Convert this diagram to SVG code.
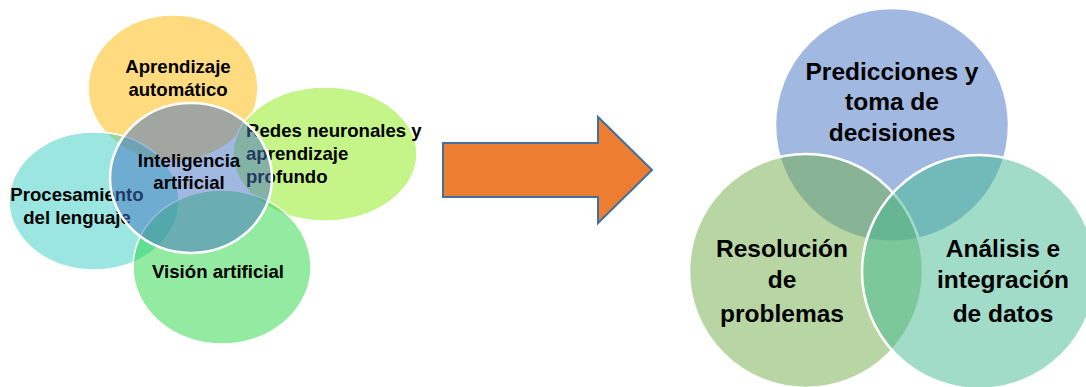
<svg xmlns="http://www.w3.org/2000/svg" width="1086" height="387" viewBox="0 0 1086 387">
<style>
.t{font-family:"Liberation Sans",Arial,sans-serif;font-weight:bold;fill:#000;}
.s{font-size:18.6px;}
.b{font-size:24.5px;}
.e{stroke:#fff;stroke-width:1.5;}
.c{stroke:#fff;stroke-width:2.5;}
</style>
<rect width="1086" height="387" fill="#fff"/>
<g id="aprendizaje">
<ellipse class="e" cx="173" cy="88" rx="85" ry="73" fill="rgb(255,183,0)" fill-opacity="0.5"/>
<text class="t s" text-anchor="middle"><tspan x="178" y="73">Aprendizaje</tspan><tspan x="178" y="96">automático</tspan></text>
</g>
<g id="redes">
<ellipse class="e" cx="325" cy="154" rx="92" ry="67" fill="rgb(140,236,20)" fill-opacity="0.5"/>
<text class="t s"><tspan x="246" y="137">Redes neuronales y</tspan><tspan x="246" y="160">aprendizaje</tspan><tspan x="246" y="183">profundo</tspan></text>
</g>
<g id="procesamiento">
<ellipse class="e" cx="94" cy="201" rx="85" ry="69" fill="rgb(55,205,193)" fill-opacity="0.5"/>
<text class="t s" text-anchor="middle"><tspan x="77" y="201">Procesamiento</tspan><tspan x="77" y="224">del lenguaje</tspan></text>
</g>
<g id="vision">
<ellipse class="e" cx="222" cy="267" rx="89" ry="77" fill="rgb(37,215,65)" fill-opacity="0.5"/>
<text class="t s" text-anchor="middle" x="218" y="278">Visión artificial</text>
</g>
<g id="inteligencia">
<ellipse class="c" cx="191" cy="178" rx="81" ry="75" fill="rgb(68,114,196)" fill-opacity="0.5"/>
<text class="t s" text-anchor="middle"><tspan x="189" y="167">Inteligencia</tspan><tspan x="189" y="189">artificial</tspan></text>
</g>
<g id="connectors">
<path d="M443,143 H598 V117 L652,170 L598,223 V197 H443 Z" fill="#ED7D31" stroke="#41719C" stroke-width="2"/>
</g>
<g id="predicciones">
<circle class="c" cx="892" cy="125" r="117" fill="rgb(68,114,196)" fill-opacity="0.5"/>
<text class="t b" text-anchor="middle"><tspan x="892" y="80">Predicciones y</tspan><tspan x="892" y="110">toma de</tspan><tspan x="892" y="141">decisiones</tspan></text>
</g>
<g id="resolucion">
<circle class="c" cx="806" cy="271" r="117" fill="rgb(112,173,71)" fill-opacity="0.5"/>
<text class="t b" text-anchor="middle"><tspan x="782" y="257">Resolución</tspan><tspan x="782" y="288">de</tspan><tspan x="782" y="322">problemas</tspan></text>
</g>
<g id="analisis">
<circle class="c" cx="979" cy="272" r="117" fill="rgb(67,185,145)" fill-opacity="0.5"/>
<text class="t b" text-anchor="middle"><tspan x="1003" y="257">Análisis e</tspan><tspan x="1003" y="288">integración</tspan><tspan x="1003" y="322">de datos</tspan></text>
</g>
</svg>
